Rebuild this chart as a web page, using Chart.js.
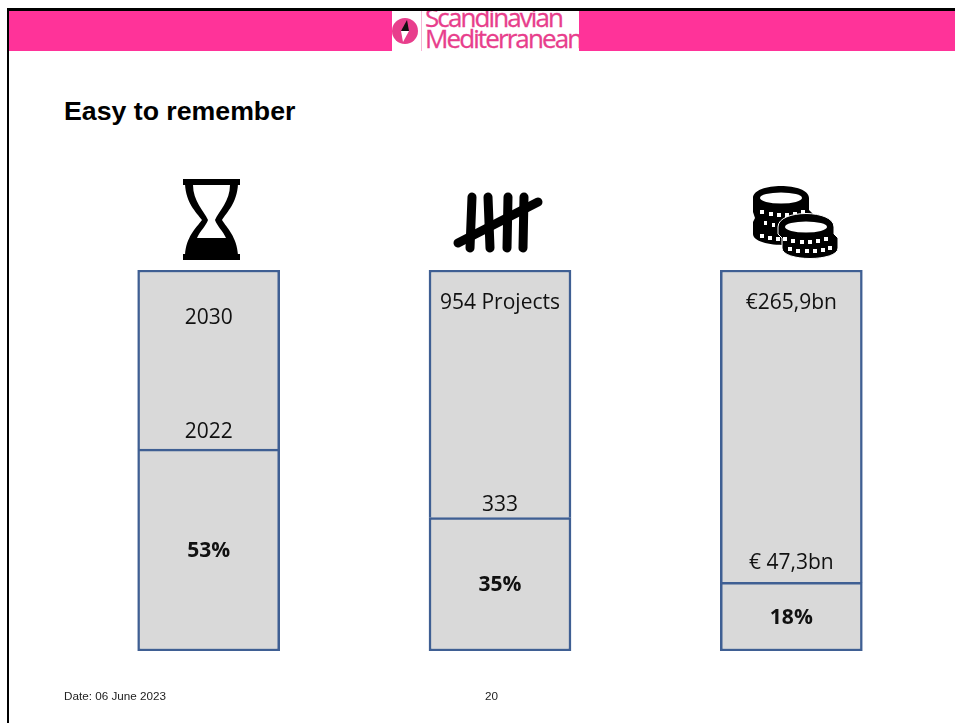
<!DOCTYPE html>
<html>
<head>
<meta charset="utf-8">
<title>Easy to remember</title>
<script src="https://cdn.jsdelivr.net/npm/chart.js@4"></script>
<style>
  html, body { margin: 0; padding: 0; background: #fff; }
  #slide { position: relative; width: 955px; height: 723px; overflow: hidden; background: #fff; }
  #slide canvas { position: absolute; left: 0; top: 0; }
  .frameTop { position: absolute; left: 7px; top: 8px; width: 948px; height: 3px; background: #000; }
  .frameLeft { position: absolute; left: 7px; top: 8px; width: 2px; height: 715px; background: #000; }
  .band { position: absolute; left: 9px; top: 11px; width: 946px; height: 40px; background: #ff3399; }
  .logo { position: absolute; left: 392px; top: 11px; width: 187px; height: 40px; background: #fff; overflow: hidden; }
  .logoText { position: absolute; left: 33px; color: #e83e8c; font-family: "Open Sans", sans-serif; font-size: 26px; line-height: 26px; letter-spacing: -1.9px; -webkit-text-stroke: 0.3px #e83e8c; white-space: nowrap; }
  .title { position: absolute; left: 64px; top: 96px; font: bold 26.7px "Liberation Sans", Arial, sans-serif; color: #000; }
  .foot { position: absolute; top: 689px; font: 11.7px "Liberation Sans", Arial, sans-serif; color: #222; }
  svg.icon { position: absolute; overflow: visible; }
</style>
</head>
<body>
<div id="slide">
  <div class="band"></div>
  <div class="frameTop"></div>
  <div class="frameLeft"></div>
  <div class="logo">
    <svg width="34" height="40" style="position:absolute;left:0;top:0">
      <circle cx="13" cy="20" r="13" fill="#e83e8c"/>
      <path d="M15 9 L17 20 L9 20 Z" fill="#111"/>
      <path d="M11 31 L17 20 L9 20 Z" fill="#fff"/>
      <rect x="29" y="0" width="1" height="40" fill="#f7b6d5"/>
    </svg>
    <div class="logoText" style="top:-7px">Scandinavian</div>
    <div class="logoText" style="top:14px">Mediterranean</div>
  </div>
  <div class="title">Easy to remember</div>

  <canvas id="grafico" width="955" height="723"></canvas>

  <!-- ampulheta -->
  <svg class="icon" style="left:183px;top:179px" width="58" height="82" viewBox="0 0 58 82">
    <rect x="0" y="0" width="57" height="6" fill="#000"/>
    <rect x="0" y="75" width="57" height="6" fill="#000"/>
    <path d="M2 5 L55 5 C54 24 44 33 39 41 C44 49 54 58 55 76 L2 76 C3 58 13 49 19 41 C13 33 3 24 2 5 Z" fill="#000"/>
    <path d="M10 6 L47 6 C47 22 36 32 32 41 C34 47 40 52 43 59 L14 59 C17 52 23 47 25 41 C21 32 10 22 10 6 Z" fill="#fff"/>
  </svg>

  <!-- riscos -->
  <svg class="icon" style="left:450px;top:190px" width="96" height="66" viewBox="0 0 96 66" fill="none" stroke="#000" stroke-width="9" stroke-linecap="round">
    <path d="M22 7 L20 58"/>
    <path d="M38 7 L40 58"/>
    <path d="M58 7 L57 58"/>
    <path d="M74 7 L73 58"/>
    <path d="M8 53 L88 12"/>
  </svg>

  <!-- moedas -->
  <svg class="icon" style="left:752px;top:184px" width="90" height="76" viewBox="0 0 90 76">
    <path d="M1 14 C1 -2 57 -2 57 14 L57 26 L61 30 L61 42 L40 61 C20 62 1 58 1 50 L1 38 L3 34 L1 28 Z" fill="#000"/>
    <ellipse cx="29" cy="14" rx="21" ry="5.5" fill="#fff"/>
    <g fill="#fff">
      <rect x="8" y="26" width="4" height="4"/><rect x="17" y="28" width="4" height="4"/><rect x="25" y="29" width="4" height="4"/><rect x="33" y="29" width="4" height="4"/><rect x="41" y="28" width="4" height="4"/><rect x="49" y="26" width="4" height="4"/>
      <rect x="12" y="37" width="3" height="4"/><rect x="20" y="39" width="3" height="4"/>
      <rect x="8" y="50" width="4" height="4"/><rect x="16" y="52" width="4" height="4"/><rect x="24" y="53" width="4" height="4"/>
    </g>
    <path d="M26 43 C26 25 82 25 82 43 L82 50 L86 54 L86 64 C86 78 30 78 30 64 L30 54 L26 50 Z" fill="#000" stroke="#fff" stroke-width="1"/>
    <ellipse cx="54" cy="43" rx="21" ry="5.5" fill="#fff"/>
    <g fill="#fff">
      <rect x="31" y="53" width="4" height="4"/><rect x="39" y="55" width="4" height="4"/><rect x="48" y="56" width="4" height="4"/><rect x="56" y="56" width="4" height="4"/><rect x="64" y="55" width="4" height="4"/><rect x="72" y="53" width="4" height="4"/>
      <rect x="36" y="63" width="4" height="4"/><rect x="44" y="65" width="4" height="4"/><rect x="53" y="65" width="4" height="4"/><rect x="61" y="65" width="4" height="4"/><rect x="69" y="64" width="4" height="4"/><rect x="76" y="62" width="4" height="4"/>
    </g>
  </svg>

  <div class="foot" style="left:64px">Date: 06 June 2023</div>
  <div class="foot" style="left:485px">20</div>
</div>

<script>
const categorias = ['Tempo', 'Projetos', 'Investimento'];
const parteConcluida = [53, 35, 18];
const parteRestante = [47, 65, 82];
const rotuloTopo = ['2030', '954 Projects', '€265,9bn'];
const rotuloDivisao = ['2022', '333', '€ 47,3bn'];
const rotuloPercentual = ['53%', '35%', '18%'];

const corBarra = '#d9d9d9';
const corBorda = '#3f5f93';
const fonteRotulo = '"Open Sans", sans-serif';
const recuoTopo = [48, 33, 33];
const recuoDivisao = [17, 13, 19];

// escreve os textos em cima das barras usando as escalas do grafico
const rotulosBarras = {
  id: 'rotulosBarras',
  afterDatasetsDraw(chart) {
    const ctx = chart.ctx;
    const y = chart.scales.y;
    const x = chart.scales.x;
    ctx.save();
    ctx.fillStyle = '#111';
    ctx.textAlign = 'center';
    ctx.textBaseline = 'middle';
    categorias.forEach((c, i) => {
      const cx = x.getPixelForValue(i);
      const divisao = y.getPixelForValue(parteConcluida[i]);
      const topo = y.getPixelForValue(100);
      ctx.font = '21px ' + fonteRotulo;
      ctx.fillText(rotuloTopo[i], cx, topo + recuoTopo[i]);
      ctx.fillText(rotuloDivisao[i], cx, divisao - recuoDivisao[i]);
      ctx.font = 'bold 21px ' + fonteRotulo;
      ctx.fillText(rotuloPercentual[i], cx, (divisao + y.getPixelForValue(0)) / 2 + 1);
    });
    ctx.restore();
  }
};

new Chart(document.getElementById('grafico'), {
  type: 'bar',
  data: {
    labels: categorias,
    datasets: [
      {
        label: 'Concluido',
        data: parteConcluida,
        backgroundColor: corBarra,
        borderColor: corBorda,
        borderWidth: 2.5,
        borderSkipped: false,
        barThickness: 142
      },
      {
        label: 'Restante',
        data: parteRestante,
        backgroundColor: corBarra,
        borderColor: corBorda,
        borderWidth: 2.5,
        borderSkipped: 'bottom',
        barThickness: 142
      }
    ]
  },
  options: {
    responsive: false,
    animation: false,
    layout: { padding: { left: 63, right: 18, top: 270, bottom: 72 } },
    plugins: { legend: { display: false }, tooltip: { enabled: false } },
    scales: {
      x: { stacked: true, display: false },
      y: { stacked: true, display: false, min: 0, max: 100 }
    }
  },
  plugins: [rotulosBarras]
});
</script>
</body>
</html>
